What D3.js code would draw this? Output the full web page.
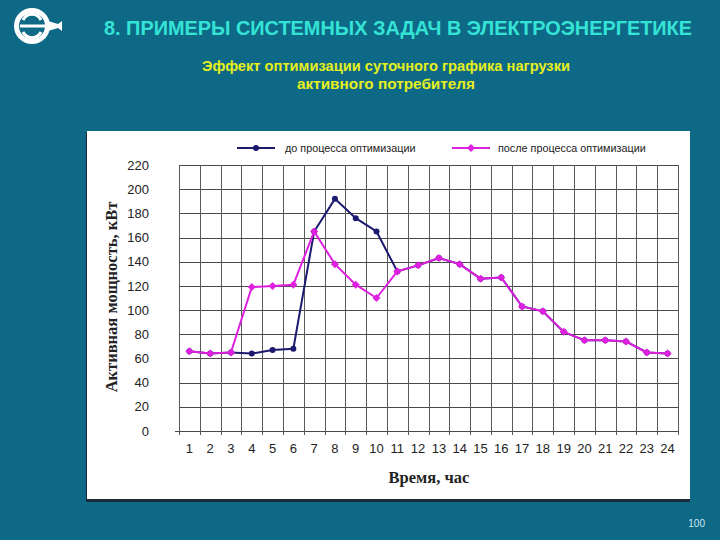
<!DOCTYPE html>
<html><head><meta charset="utf-8">
<script src="https://cdn.jsdelivr.net/npm/d3@7"></script>
<style>html,body{margin:0;padding:0;background:#0d6986;}svg{display:block;}</style>
</head><body>
<script>
const hours = d3.range(1, 25).map(String);
const before = [66,64,65,64,67,68,165,192,176,165,132,137,143,138,126,127,103,99,82,75,75,74,65,64];
const after  = [66,64,65,119,120,121,165,138,121,110,132,137,143,138,126,127,103,99,82,75,75,74,65,64];
const yTicks = [0,20,40,60,80,100,120,140,160,180,200,220];
const seriesNames = ["до процесса оптимизации", "после процесса оптимизации"];
const title = "8. ПРИМЕРЫ СИСТЕМНЫХ ЗАДАЧ В ЭЛЕКТРОЭНЕРГЕТИКЕ";
const subtitle = ["Эффект оптимизации суточного графика нагрузки", "активного  потребителя"];

const W = 720, H = 540;
const svg = d3.select("body").append("svg").attr("width", W).attr("height", H);
svg.append("rect").attr("width", W).attr("height", H).attr("fill", "#0d6986");

// logo
const logo = svg.append("g").attr("transform", "translate(32,26)");
logo.append("circle").attr("r", 15.5).attr("fill", "none").attr("stroke", "#fff").attr("stroke-width", 5);
logo.append("path").attr("d", "M-9,-6 A10,10 0 0 1 9,-6 M-9,6 A10,10 0 0 0 9,6").attr("fill","none").attr("stroke","#fff").attr("stroke-width",3);
logo.append("line").attr("x1",-12).attr("x2",24).attr("y1",0).attr("y2",0).attr("stroke","#fff").attr("stroke-width",3);
logo.append("path").attr("d","M16,-5 L26,-2 L30,-5 L30,5 L26,2 L16,5 Z").attr("fill","#fff");

svg.append("text").attr("x", 398).attr("y", 35).attr("text-anchor","middle")
  .attr("font-family","Liberation Sans, Arial, sans-serif").attr("font-weight","bold").attr("font-size",19.5)
  .attr("fill","#35e3d6").attr("textLength",588).attr("lengthAdjust","spacingAndGlyphs").text(title);
const subLen = [368, 178];
subtitle.forEach((s,i)=>svg.append("text").attr("x",386).attr("y",71+i*18).attr("text-anchor","middle")
  .attr("font-family","Liberation Sans, Arial, sans-serif").attr("font-weight","bold").attr("font-size",14)
  .attr("fill","#e6ef1e").attr("textLength",subLen[i]).attr("lengthAdjust","spacingAndGlyphs").text(s));

svg.append("text").attr("x",705).attr("y",527).attr("text-anchor","end")
  .attr("font-family","Liberation Sans, Arial, sans-serif").attr("font-size",10).attr("fill","#cfe6ee").text("100");

// panel
svg.append("rect").attr("x",86).attr("y",132).attr("width",604).attr("height",370).attr("fill","#1b2b38");
svg.append("rect").attr("x",87).attr("y",131).attr("width",603).attr("height",368).attr("fill","#fff");

const L = 179, R = 678, T = 165, B = 431;
const x = d3.scaleBand().domain(hours).range([L, R]);
const y = d3.scaleLinear().domain([0, 220]).range([B, T]);

const grid = svg.append("g").attr("stroke-width",1).attr("shape-rendering","crispEdges");
yTicks.forEach(v=>grid.append("line").attr("x1",L).attr("x2",R).attr("y1",Math.round(y(v))+0.5).attr("y2",Math.round(y(v))+0.5).attr("stroke","#4a4a4a"));
hours.forEach(h=>grid.append("line").attr("x1",Math.round(x(h))+0.5).attr("x2",Math.round(x(h))+0.5).attr("y1",T).attr("y2",B+4).attr("stroke","#5a5a5a"));
grid.append("line").attr("x1",R+0.5).attr("x2",R+0.5).attr("y1",T).attr("y2",B+4).attr("stroke","#5a5a5a");
grid.append("line").attr("x1",L-4).attr("x2",L).attr("y1",B+0.5).attr("y2",B+0.5).attr("stroke","#4a4a4a");

const fontAxis = "Liberation Sans, Arial, sans-serif";
const yAxis = svg.append("g").attr("transform",`translate(${L},0)`)
  .call(d3.axisLeft(y).tickValues(yTicks).tickSize(0).tickPadding(30));
yAxis.select(".domain").remove();
yAxis.selectAll("text").attr("font-family",fontAxis).attr("font-size",13).attr("fill","#222");

const xAxis = svg.append("g").attr("transform",`translate(0,${B})`)
  .call(d3.axisBottom(x).tickSize(0).tickPadding(13));
xAxis.select(".domain").remove();
xAxis.selectAll("text").attr("font-family",fontAxis).attr("font-size",13).attr("fill","#222");

svg.append("text").attr("transform","translate(117,297) rotate(-90)").attr("text-anchor","middle")
  .attr("font-family","Liberation Serif, Times New Roman, serif").attr("font-weight","bold").attr("font-size",16.5)
  .attr("fill","#222").text("Активная мощность, кВт");
svg.append("text").attr("x",429).attr("y",483).attr("text-anchor","middle")
  .attr("font-family","Liberation Serif, Times New Roman, serif").attr("font-weight","bold").attr("font-size",16.5)
  .attr("fill","#222").text("Время, час");

const cx = h => x(h) + x.bandwidth()/2;
const line = d3.line().x((d,i)=>cx(hours[i])).y(d=>y(d));
const colors = ["#1c1a6e", "#e020e0"];

// before
svg.append("path").datum(before).attr("d",line).attr("fill","none").attr("stroke",colors[0]).attr("stroke-width",2);
svg.selectAll(".pb").data(before).join("circle").attr("cx",(d,i)=>cx(hours[i])).attr("cy",d=>y(d)).attr("r",3).attr("fill",colors[0]);
// after
svg.append("path").datum(after).attr("d",line).attr("fill","none").attr("stroke",colors[1]).attr("stroke-width",2);
svg.selectAll(".pa").data(after).join("path").attr("transform",(d,i)=>`translate(${cx(hours[i])},${y(d)})`)
  .attr("d","M0,-4L4,0L0,4L-4,0Z").attr("fill",colors[1]);

// legend
const lg = [{x1:237,x2:275,tx:285},{x1:452,x2:490,tx:498}];
lg.forEach((g,i)=>{
  svg.append("line").attr("x1",g.x1).attr("x2",g.x2).attr("y1",148).attr("y2",148).attr("stroke",colors[i]).attr("stroke-width",2);
  if(i===0) svg.append("circle").attr("cx",(g.x1+g.x2)/2).attr("cy",148).attr("r",3).attr("fill",colors[i]);
  else svg.append("path").attr("transform",`translate(${(g.x1+g.x2)/2},148)`).attr("d","M0,-4L4,0L0,4L-4,0Z").attr("fill",colors[i]);
  svg.append("text").attr("x",g.tx).attr("y",152).attr("font-family",fontAxis).attr("font-size",10.8).attr("fill","#222").text(seriesNames[i]);
});
</script>
</body></html>
